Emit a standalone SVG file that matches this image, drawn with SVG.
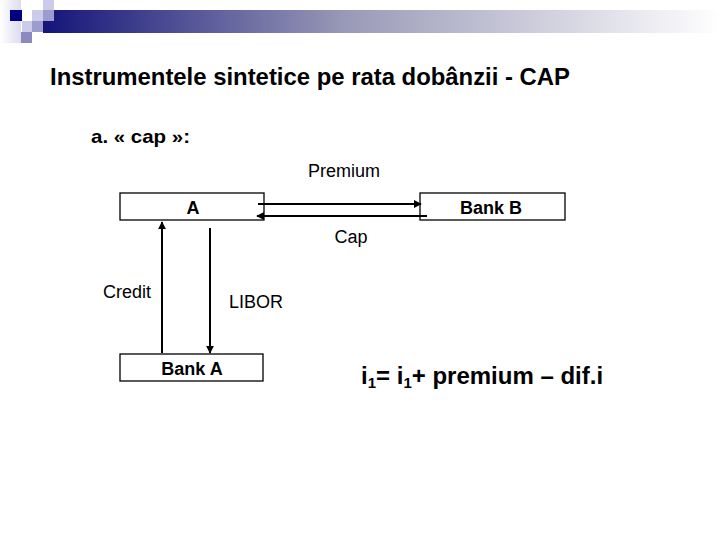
<svg xmlns="http://www.w3.org/2000/svg" width="720" height="540" viewBox="0 0 720 540">
<defs>
<linearGradient id="bar" x1="0" y1="0" x2="1" y2="0">
<stop offset="0" stop-color="#14147a"/>
<stop offset="0.45" stop-color="#9a9ab8"/>
<stop offset="1" stop-color="#ffffff"/>
</linearGradient>
<linearGradient id="pale" x1="0" y1="0" x2="1" y2="0">
<stop offset="0" stop-color="#ffffff"/>
<stop offset="1" stop-color="#dcdcee"/>
</linearGradient>
<marker id="ah" viewBox="0 0 10 10" refX="9" refY="5" markerWidth="4" markerHeight="4" orient="auto" markerUnits="strokeWidth">
<path d="M0,0 L10,5 L0,10 z" fill="#000"/>
</marker>
<style>
.box{fill:#fff;stroke:#000;stroke-width:1.3}
.b{font-family:"Liberation Sans",Arial,sans-serif;font-weight:bold;fill:#000}
.r{font-family:"Liberation Sans",Arial,sans-serif;fill:#000}
.ln{stroke:#000;stroke-width:2;fill:none}
</style>
</defs>
<rect width="720" height="540" fill="#fff"/>
<g id="decor">
<rect x="0" y="0" width="21" height="43" fill="url(#pale)"/>
<rect x="43" y="10" width="677" height="23" fill="url(#bar)"/>
<rect x="10" y="10" width="12" height="11" fill="#000080"/>
<rect x="32" y="10" width="11" height="11" fill="#ccccea"/>
<rect x="43" y="0" width="11" height="10" fill="#ccccea"/>
<rect x="43" y="10" width="11" height="11" fill="#9c9cce"/>
<rect x="22" y="21" width="10" height="11" fill="#ccccea"/>
<rect x="32" y="21" width="11" height="11" fill="#9c9cce"/>
<rect x="21" y="32" width="11" height="11" fill="#8a8abf"/>
</g>
<text class="b" x="50" y="85" font-size="24" textLength="520" lengthAdjust="spacingAndGlyphs">Instrumentele sintetice pe rata dobânzii - CAP</text>
<text class="b" x="91" y="143" font-size="19" textLength="99" lengthAdjust="spacingAndGlyphs">a. « cap »:</text>
<g id="nodeA">
<rect class="box" x="120" y="193" width="144" height="27"/>
<text class="b" x="193" y="214" font-size="18" text-anchor="middle">A</text>
</g>
<g id="nodeBankB">
<rect class="box" x="420" y="193" width="145" height="27"/>
<text class="b" x="491" y="214" font-size="18" text-anchor="middle">Bank B</text>
</g>
<g id="nodeBankA">
<rect class="box" x="120" y="354" width="143" height="27"/>
<text class="b" x="192" y="375" font-size="18" text-anchor="middle">Bank A</text>
</g>
<g id="connectors">
<line class="ln" x1="258" y1="204" x2="421" y2="204" marker-end="url(#ah)"/>
<line class="ln" x1="427" y1="216" x2="257" y2="216" marker-end="url(#ah)"/>
<line class="ln" x1="162" y1="353" x2="162" y2="222" marker-end="url(#ah)"/>
<line class="ln" x1="210" y1="228" x2="210" y2="353" marker-end="url(#ah)"/>
</g>
<g id="labels">
<text class="r" x="344" y="177" font-size="18" text-anchor="middle">Premium</text>
<text class="r" x="351" y="243" font-size="18" text-anchor="middle">Cap</text>
<text class="r" x="103" y="298" font-size="18">Credit</text>
<text class="r" x="229" y="308" font-size="18">LIBOR</text>
</g>
<text class="b" x="361" y="384" font-size="24">i<tspan font-size="15" dy="4">1</tspan><tspan dy="-4">= i</tspan><tspan font-size="15" dy="4">1</tspan><tspan dy="-4">+ premium – dif.i</tspan></text>
</svg>
